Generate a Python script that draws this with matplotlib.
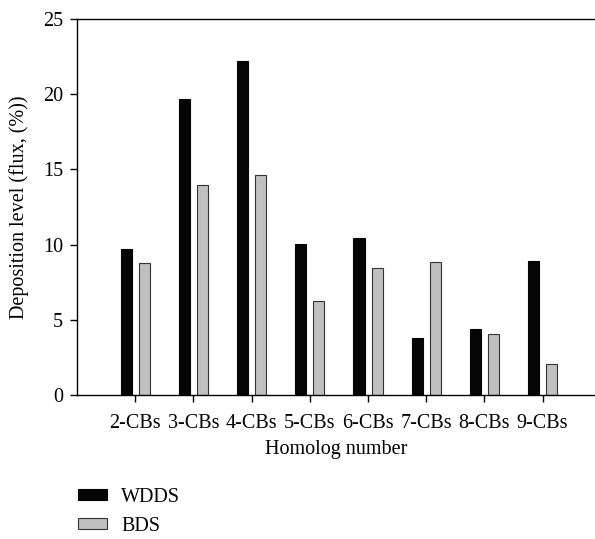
import numpy as np
import matplotlib.pyplot as plt

plt.rcParams['font.family'] = ['Liberation Serif', 'DejaVu Serif']

categories = ['2-CBs', '3-CBs', '4-CBs', '5-CBs', '6-CBs', '7-CBs', '8-CBs', '9-CBs']
wdds = [9.7, 19.7, 22.2, 10.05, 10.45, 3.8, 4.4, 8.9]
bds = [8.8, 13.95, 14.65, 6.25, 8.45, 8.85, 4.05, 2.05]

fig = plt.figure(figsize=(5.95, 5.39), dpi=100)
ax = fig.add_axes([0.1294, 0.2672, 0.8706, 0.6975])

x = np.arange(len(categories))
w = 0.19
ax.bar(x - 0.155, wdds, w, color='#050505', edgecolor='#050505', linewidth=0.8, label='WDDS')
ax.bar(x + 0.155, bds, w, color='#c0c0c0', edgecolor='#333333', linewidth=0.8, label='BDS')

fs = 14.5
ax.set_xlim(-1, 7.9)
ax.set_ylim(0, 25)
ax.set_yticks([0, 5, 10, 15, 20, 25])
ax.set_xticks(x)
ax.set_xticklabels(categories)
ax.tick_params(labelsize=fs, direction='out', length=5, width=1, pad=5)
ax.tick_params(axis='x', pad=9)
ax.spines['right'].set_visible(False)
for s in ['left', 'bottom', 'top']:
    ax.spines[s].set_linewidth(1.0)

ax.set_xlabel('Homolog number', fontsize=fs, labelpad=5)
ax.set_ylabel('Deposition level (flux, (%))', fontsize=fs, labelpad=10)

fig.legend(loc='upper left', bbox_to_anchor=(0.131, 0.095), frameon=False,
           fontsize=fs, handlelength=1.45, handleheight=0.45,
           handletextpad=0.7, labelspacing=0.5, borderaxespad=0, borderpad=0)

fig.savefig('out.png', dpi=100)
